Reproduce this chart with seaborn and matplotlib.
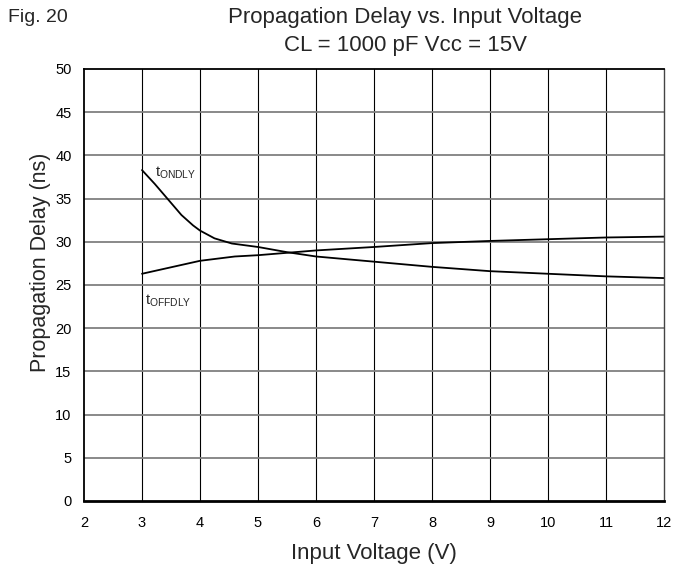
import numpy as np
import pandas as pd
import seaborn as sns
import matplotlib.pyplot as plt

# values
volts = [3, 3.22, 3.45, 3.68, 3.88, 4, 4.25, 4.55, 5, 5.5, 6, 7, 8, 9, 10, 11, 12]
t_on = [38.3, 36.7, 34.9, 33.1, 31.9, 31.3, 30.4, 29.8, 29.4, 28.8, 28.3, 27.7, 27.1, 26.6, 26.3, 26.0, 25.8]
volts_off = [3, 3.5, 4, 4.6, 5, 6, 7, 8, 9, 10, 11, 12]
t_off = [26.3, 27.05, 27.8, 28.3, 28.45, 29.0, 29.4, 29.85, 30.1, 30.3, 30.5, 30.6]

sns.set_style("white")
plt.rcParams['font.family'] = ['Liberation Sans', 'DejaVu Sans']
plt.rcParams['mathtext.fontset'] = 'custom'
plt.rcParams['mathtext.rm'] = 'Liberation Sans'

fig = plt.figure(figsize=(6.9, 5.71), dpi=100)
ax = fig.add_axes([84/690, 1-501/571, (664-84)/690, (501-69)/571])

df_on = pd.DataFrame({"v": volts, "t": t_on})
df_off = pd.DataFrame({"v": volts_off, "t": t_off})
sns.lineplot(data=df_on, x="v", y="t", ax=ax, color="black", linewidth=1.3)
sns.lineplot(data=df_off, x="v", y="t", ax=ax, color="black", linewidth=1.3)

ax.set_xlim(2, 12)
ax.set_ylim(0, 50)
ax.set_xticks(range(2, 13))
ax.set_yticks(range(0, 51, 5))
for x in range(3, 12):
    ax.axvline(x, color="black", lw=0.8, zorder=0)
for y in range(5, 50, 5):
    ax.axhline(y, color="#808080", lw=1.3, zorder=0)

for s in ax.spines.values():
    s.set_color("black")
    s.set_linewidth(1.3)
ax.spines["bottom"].set_linewidth(2)
ax.spines["right"].set_color("#444444")
ax.spines["right"].set_linewidth(1.0)

ax.tick_params(axis="both", direction="out", length=4, width=0.8, colors="black", labelsize=10.5, pad=5)
ax.tick_params(axis="x", pad=7)

ax.set_xlabel("Input Voltage (V)", fontsize=16, labelpad=9)
ax.set_ylabel("Propagation Delay (ns)", fontsize=15.5)
ax.yaxis.set_label_coords(-0.057, 0.553)

ax.text(3.22, 37.6, r"t$_{\mathregular{ONDLY}}$", fontsize=10.5)
ax.text(3.05, 22.8, r"t$_{\mathregular{OFFDLY}}$", fontsize=10.5)

fig.text(405/690, 1-18/571, "Propagation Delay vs. Input Voltage", ha="center", va="center", fontsize=16)
fig.text(405/690, 1-45/571, "CL = 1000 pF Vcc = 15V", ha="center", va="center", fontsize=16)
fig.text(8/690, 1-18/571, "Fig. 20", ha="left", va="center", fontsize=14)

fig.savefig("out.png", dpi=100)
